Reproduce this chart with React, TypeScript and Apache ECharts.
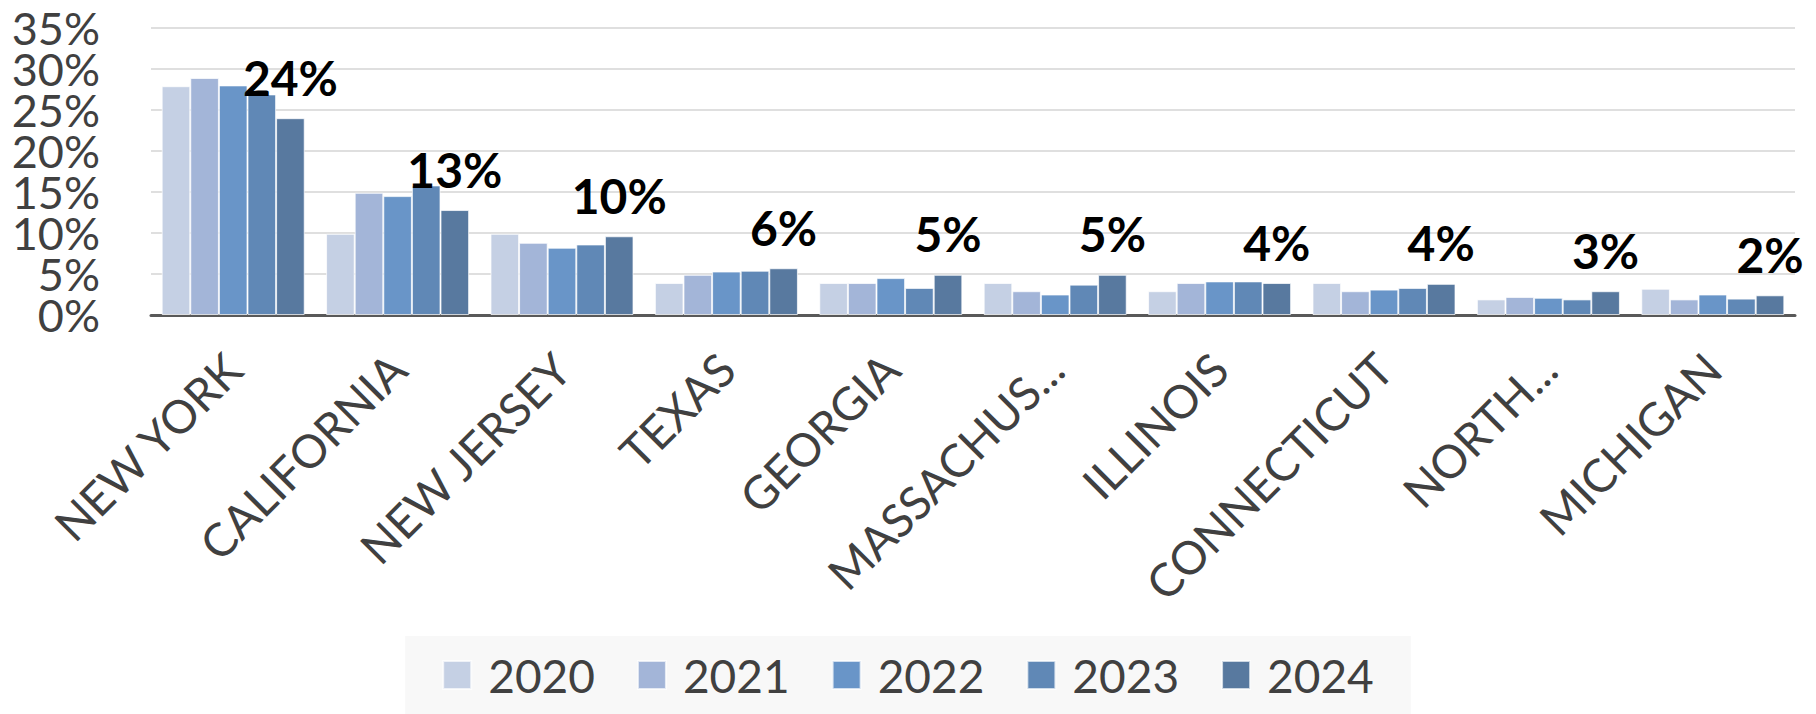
import React, { useEffect, useRef } from "react";
import * as echarts from "echarts";

const categories = [
  "NEW YORK",
  "CALIFORNIA",
  "NEW JERSEY",
  "TEXAS",
  "GEORGIA",
  "MASSACHUS...",
  "ILLINOIS",
  "CONNECTICUT",
  "NORTH...",
  "MICHIGAN",
];
const years = ["2020", "2021", "2022", "2023", "2024"];
const v2020 = [27.9, 9.9, 9.9, 3.9, 3.9, 3.9, 2.9, 3.9, 1.9, 3.2];
const v2021 = [28.9, 14.9, 8.8, 4.9, 3.9, 2.9, 3.9, 2.9, 2.2, 1.9];
const v2022 = [28.0, 14.5, 8.2, 5.3, 4.5, 2.5, 4.1, 3.1, 2.1, 2.5];
const v2023 = [26.9, 15.8, 8.6, 5.4, 3.3, 3.7, 4.1, 3.3, 1.9, 2.0];
const v2024 = [24.0, 12.8, 9.6, 5.7, 4.9, 4.9, 3.9, 3.8, 2.9, 2.4];
const yTicks = { min: 0, max: 35, interval: 5 };
const colors = ["#c5d0e4", "#a3b5d8", "#6995c8", "#6088b6", "#58799f"];

const FONT = "Lato";

export default function App() {
  const ref = useRef<HTMLDivElement>(null);
  useEffect(() => {
    if (!ref.current) return;
    const chart = echarts.init(ref.current, undefined, { renderer: "svg" });
    const all = [v2020, v2021, v2022, v2023, v2024];
    const series = all.map((data, i) => ({
      name: years[i],
      type: "bar" as const,
      data,
      yAxisIndex: 0,
      barGap: "0%",
      barCategoryGap: "13%",
      itemStyle: {
        color: colors[i],
        borderColor: "rgba(255,255,255,0.7)",
        borderWidth: 1,
      },
      label:
        i === 4
          ? {
              show: true,
              position: "top" as const,
              distance: 21,
              formatter: (p: any) => Math.round(p.value) + "%",
              fontFamily: FONT,
              fontWeight: "bold" as const,
              fontSize: 48,
              lineHeight: 40,
              color: "#000000",
            }
          : { show: false },
    }));
    // Two overlaid label axes share the same scale: one shows every other tick,
    // so that ECharts does not hide any of the closely packed labels.
    const labelAxis = (showOdd: boolean, withGrid: boolean) => ({
      type: "value" as const,
      position: "left" as const,
      min: yTicks.min,
      max: yTicks.max,
      interval: yTicks.interval,
      axisLine: { show: false },
      axisTick: { show: false },
      splitLine: { show: withGrid, lineStyle: { color: "#d4d4d4", width: 1.5 } },
      axisLabel: {
        formatter: (v: number) => {
          const odd = Math.round(v / yTicks.interval) % 2 === 1;
          return odd === showOdd ? v + "%" : "";
        },
        margin: 51,
        showMinLabel: true,
        showMaxLabel: true,
        hideOverlap: false,
        fontFamily: FONT,
        fontSize: 45,
        lineHeight: 34,
        color: "#404040",
      },
    });
    chart.setOption({
      animation: false,
      backgroundColor: "#ffffff",
      grid: { left: 151, right: 21, top: 28, bottom: 399, containLabel: false },
      xAxis: {
        type: "category",
        data: categories,
        axisTick: { show: false },
        axisLine: { lineStyle: { color: "#595959", width: 3 } },
        axisLabel: {
          interval: 0,
          rotate: 45,
          margin: 46,
          fontFamily: FONT,
          fontSize: 46,
          color: "#404040",
        },
      },
      yAxis: [labelAxis(false, true), labelAxis(true, false)],
      legend: {
        data: years,
        left: "center",
        top: 636,
        backgroundColor: "#f8f8f8",
        padding: [16, 37, 16, 37],
        itemWidth: 28,
        itemHeight: 28,
        itemGap: 42,
        icon: "rect",
        textStyle: {
          fontFamily: FONT,
          fontSize: 46,
          color: "#404040",
          padding: [0, 0, 0, 12],
        },
      },
      series,
    });
    return () => chart.dispose();
  }, []);
  return (
    <div
      ref={ref}
      style={{ position: "fixed", left: 0, top: 0, width: 1816, height: 714 }}
    />
  );
}
